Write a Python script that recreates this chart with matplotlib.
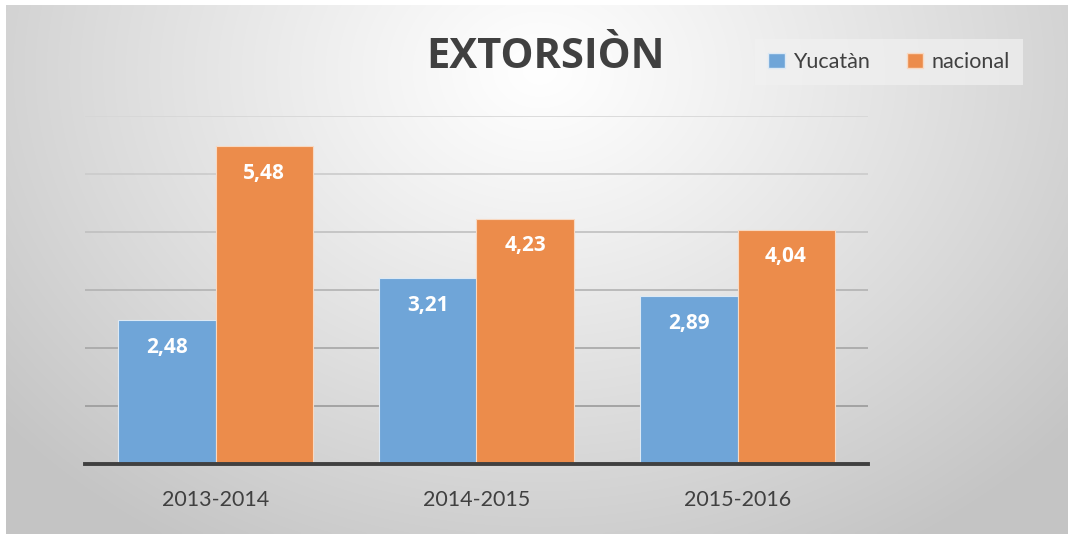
import numpy as np
import matplotlib
matplotlib.use("Agg")
import matplotlib.pyplot as plt
from matplotlib.patches import Patch

categories = ["2013-2014", "2014-2015", "2015-2016"]
yucatan = [2.48, 3.21, 2.89]
nacional = [5.48, 4.23, 4.04]
series_names = ["Yucatàn", "nacional"]
yticks = [0, 1, 2, 3, 4, 5, 6]

W, H = 1071, 537
fig = plt.figure(figsize=(W / 100, H / 100), dpi=100, facecolor="white")

# background gradient panel
bg = fig.add_axes([6 / W, 3 / H, (1068 - 6) / W, (532 - 3) / H])
bg.set_axis_off()
nx, ny = 400, 200
xs = np.linspace(6, 1068, nx)
ys = np.linspace(5, 534, ny)
X, Y = np.meshgrid(xs, ys)
cx, cy = 540, 70
r = np.sqrt(((X - cx) / 1.25) ** 2 + ((Y - cy) / 1.0) ** 2)
t = np.clip(r / 560, 0, 1)
vals = 1.0 - t ** 1.1 * (1.0 - 0.77)
img = np.dstack([vals, vals, vals])
bg.imshow(img, aspect="auto", extent=[0, 1, 0, 1], origin="upper", interpolation="bilinear")
bg.set_xlim(0, 1)
bg.set_ylim(0, 1)

# plot area
left, right, top, bottom = 85, 868, 116, 464
ax = fig.add_axes([left / W, (H - bottom) / H, (right - left) / W, (bottom - top) / H])
ax.set_facecolor("none")
x = np.arange(len(categories))
bw = 0.372
blue = "#6FA5D8"
orange = "#EC8C4B"
b1 = ax.bar(x - bw / 2, yucatan, bw, color=blue, edgecolor="#dce9f5", linewidth=0.8, zorder=3)
b2 = ax.bar(x + bw / 2, nacional, bw, color=orange, edgecolor="#f8d9c2", linewidth=0.8, zorder=3)
ax.set_xlim(-0.5, 2.5)
ax.set_ylim(0, 6)
ax.set_yticks(yticks)
ax.set_yticklabels([])
ax.tick_params(axis="y", length=0)
gcols = ["#404040", "#9a9a9a", "#a6a6a6", "#b2b2b2", "#c0c0c0", "#cbcbcb", "#d6d6d6"]
for yv, c in zip(yticks, gcols):
    if yv == 0:
        continue
    ax.axhline(yv, color=c, linewidth=1.2, zorder=1)
ax.axhline(0, color="#404040", linewidth=2.8, zorder=4, clip_on=False)
for s in ax.spines.values():
    s.set_visible(False)
ax.set_xticks(x)
ax.set_xticklabels(categories, fontsize=15.5, color="#404040", family="Lato")
ax.tick_params(axis="x", length=0, pad=19)

for bars, vals_ in ((b1, yucatan), (b2, nacional)):
    for rect, v in zip(bars, vals_):
        ax.text(rect.get_x() + rect.get_width() / 2, v - 0.47,
                f"{v:.2f}".replace(".", ","), ha="center", va="center",
                color="white", fontsize=15, fontweight="bold", family="Open Sans", zorder=5)

fig.text(545 / W, 1 - 58 / H, "EXTORSIÒN", ha="center", va="center",
         fontsize=30, fontweight="bold", color="#404040", family="Open Sans")

handles = [Patch(facecolor=blue, edgecolor="#dce9f5"), Patch(facecolor=orange, edgecolor="#f8d9c2")]
leg = fig.legend(handles, series_names, loc="center", bbox_to_anchor=(889 / W, 1 - 62 / H),
                 ncol=2, frameon=True, handlelength=0.75, handleheight=0.75,
                 handletextpad=0.4, columnspacing=1.7, borderpad=0.6,
                 prop={"family": "Lato", "size": 15.5})
leg.get_frame().set_facecolor("#f1f1f1")
leg.get_frame().set_alpha(0.7)
leg.get_frame().set_edgecolor("none")
leg.get_frame().set_boxstyle("square", pad=0.0)
for txt in leg.get_texts():
    txt.set_color("#404040")

fig.savefig("out.png", dpi=100, facecolor="white")
